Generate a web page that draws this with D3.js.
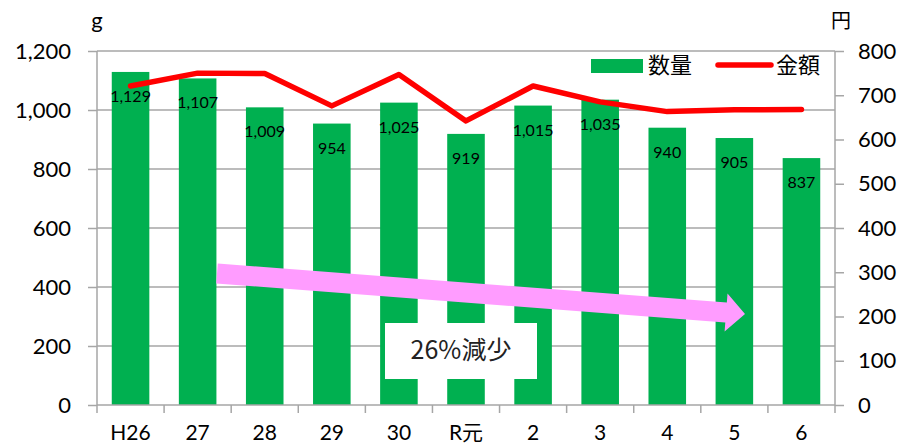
<!DOCTYPE html>
<html><head><meta charset="utf-8">
<script src="https://cdn.jsdelivr.net/npm/d3@7"></script>
<style>
body{margin:0;background:#fff;}
svg{display:block;}
text{font-family:Lato,"Noto Sans CJK JP",sans-serif;}
.jp{font-family:"Noto Sans CJK JP",sans-serif;}
</style></head>
<body>
<svg id="c" width="904" height="443"></svg>
<script>
const categories = ["H26","27","28","29","30","R元","2","3","4","5","6"];
const quantity = [1129,1107,1009,954,1025,919,1015,1035,940,905,837];
const amount = [721,750,749,676,747,642,721,685,663,667,668];
const leftTicks = [0,200,400,600,800,1000,1200];
const rightTicks = [0,100,200,300,400,500,600,700,800];
const seriesNames = ["数量","金額"];
const annotation = "26%減少";

const svg = d3.select("#c");
const L=97, R=835, T=51, B=405;
const x = d3.scaleBand().domain(categories).range([L,R]).paddingInner(0.44).paddingOuter(0.22);
const xb = d3.scaleBand().domain(categories).range([L,R]);
const yL = d3.scaleLinear().domain([0,1200]).range([B,T]);
const yR = d3.scaleLinear().domain([0,800]).range([B,T]);
const grid="#a6a6a6";

// gridlines
svg.append("g").selectAll("line").data(leftTicks.filter(d=>d>0)).join("line")
  .attr("x1",L).attr("x2",R).attr("y1",d=>yL(d)).attr("y2",d=>yL(d))
  .attr("stroke",grid).attr("stroke-width",1.5);

// bars
svg.append("g").selectAll("rect").data(quantity).join("rect")
  .attr("x",(d,i)=>x(categories[i])).attr("width",x.bandwidth())
  .attr("y",d=>yL(d)).attr("height",d=>B-yL(d)).attr("fill","#00b050");

// axes
const axL = d3.axisLeft(yL).tickValues(leftTicks).tickSize(9).tickPadding(17).tickFormat(d3.format(","));
const gL = svg.append("g").attr("transform",`translate(${L},0)`).call(axL);
const axR = d3.axisRight(yR).tickValues(rightTicks).tickSize(9).tickPadding(14);
const gR = svg.append("g").attr("transform",`translate(${R},0)`).call(axR);
[gL,gR].forEach(g=>{
  g.selectAll("path,line").attr("stroke",grid).attr("stroke-width",1.5);
  g.selectAll("text").attr("font-size",22).attr("fill","#000").attr("font-family","Lato");
});
gL.select(".domain").attr("d",`M0,${T}V${B}`);
gR.select(".domain").attr("d",`M0,${T}V${B}`);

// bottom axis
svg.append("line").attr("x1",L).attr("x2",R).attr("y1",B).attr("y2",B).attr("stroke",grid).attr("stroke-width",1.5);
const bounds = categories.map(c=>xb(c)).concat([R]);
svg.append("g").selectAll("line").data(bounds).join("line")
  .attr("x1",d=>d).attr("x2",d=>d).attr("y1",B).attr("y2",B+8).attr("stroke",grid).attr("stroke-width",1.5);
svg.append("g").selectAll("text").data(categories).join("text")
  .attr("x",d=>xb(d)+xb.bandwidth()/2).attr("y",440).attr("text-anchor","middle")
  .attr("font-size",21).attr("fill","#000").text(d=>d);

// data labels
svg.append("g").selectAll("text").data(quantity).join("text")
  .attr("x",(d,i)=>x(categories[i])+x.bandwidth()/2).attr("y",d=>yL(d)+30)
  .attr("text-anchor","middle").attr("font-size",16).attr("fill","#000")
  .text(d=>d3.format(",")(d));

// line
const line = d3.line().x((d,i)=>xb(categories[i])+xb.bandwidth()/2).y(d=>yR(d));
svg.append("path").datum(amount).attr("d",line).attr("fill","none")
  .attr("stroke","#ff0000").attr("stroke-width",5.5).attr("stroke-linejoin","round").attr("stroke-linecap","round");

// axis unit titles
svg.append("text").attr("x",97).attr("y",28).attr("text-anchor","middle").attr("font-size",22).text("g");
svg.append("text").attr("class","jp").attr("x",841).attr("y",28).attr("text-anchor","middle").attr("font-size",20).text("円");

// legend
svg.append("rect").attr("x",591).attr("y",59).attr("width",52).attr("height",14).attr("fill","#00b050");
svg.append("text").attr("class","jp").attr("x",648).attr("y",73).attr("font-size",22).text(seriesNames[0]);
svg.append("line").attr("x1",718).attr("x2",771).attr("y1",65).attr("y2",65)
  .attr("stroke","#ff0000").attr("stroke-width",5.5).attr("stroke-linecap","round");
svg.append("text").attr("class","jp").attr("x",776).attr("y",73).attr("font-size",22).text(seriesNames[1]);

// arrow annotation
const ax0=[217,273.5], ax1=[745,314];
const ang=Math.atan2(ax1[1]-ax0[1],ax1[0]-ax0[0]);
const len=Math.hypot(ax1[0]-ax0[0],ax1[1]-ax0[1]);
const sw=10, hw=19, hl=19;
svg.append("path")
  .attr("transform",`translate(${ax0[0]},${ax0[1]}) rotate(${ang*180/Math.PI})`)
  .attr("d",`M0,${-sw}L${len-hl},${-sw}L${len-hl},${-hw}L${len},0L${len-hl},${hw}L${len-hl},${sw}L0,${sw}Z`)
  .attr("fill","#ff9cff");

// text box
svg.append("rect").attr("x",385).attr("y",323).attr("width",152).attr("height",56).attr("fill","#fff");
svg.append("text").attr("class","jp").attr("x",461).attr("y",359).attr("text-anchor","middle")
  .attr("font-size",25).attr("font-weight",400).attr("fill","#222").text(annotation);
</script>
</body></html>
